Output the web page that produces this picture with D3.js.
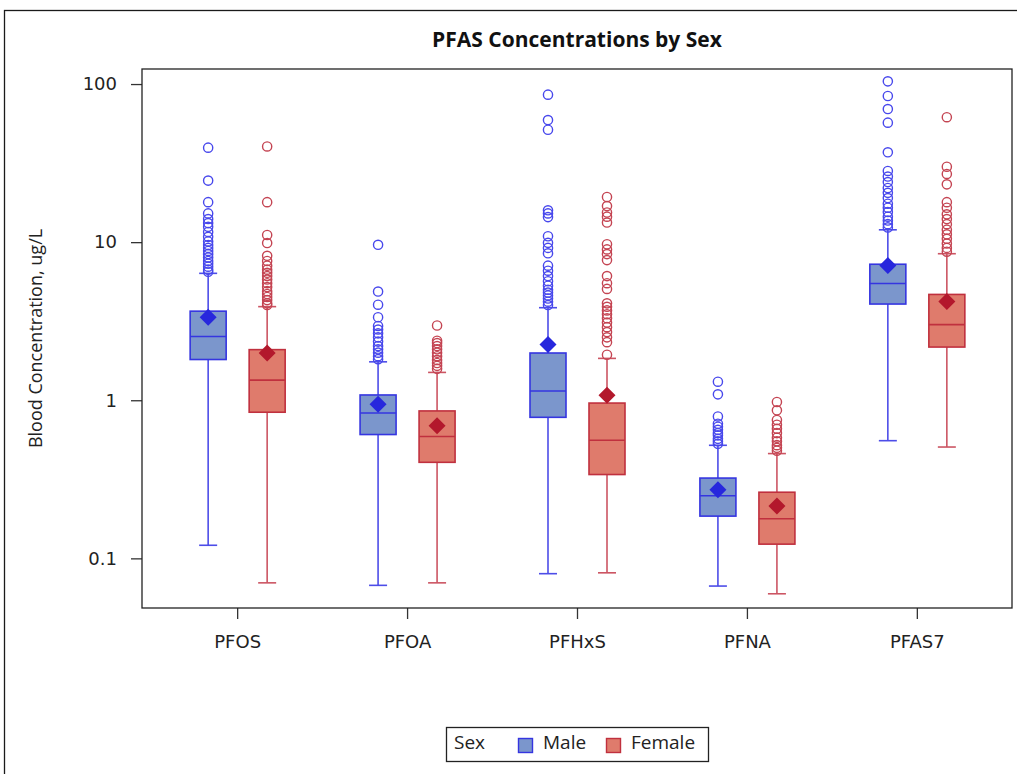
<!DOCTYPE html>
<html>
<head>
<meta charset="utf-8">
<script src="https://cdn.jsdelivr.net/npm/d3@7"></script>
<style>
  html, body { margin: 0; padding: 0; background: #fff; }
  svg { display: block; }
</style>
</head>
<body>
<svg id="chart" width="1017" height="774"></svg>
<script>
// ---- data ----
const categories = ["PFOS", "PFOA", "PFHxS", "PFNA", "PFAS7"];
const sexes = ["Male", "Female"];
const yTicks = [0.1, 1, 10, 100];

const maleQ1      = [1.81, 0.607, 0.78, 0.185, 4.06];
const maleMedian  = [2.53, 0.83, 1.145, 0.249, 5.48];
const maleQ3      = [3.66, 1.08, 1.99, 0.322, 7.25];
const maleLow     = [0.121, 0.0675, 0.080, 0.0668, 0.555];
const maleHigh    = [6.35, 1.75, 3.85, 0.519, 11.97];
const maleMean    = [3.35, 0.945, 2.25, 0.272, 7.11];
const maleOutliers = [
  [39.6, 24.5, 17.9, 15.2, 14.0, 13.2, 12.5, 11.6, 10.8, 10.1, 9.6, 9.2, 8.8, 8.4, 8.0, 7.6, 7.3, 7.0, 6.7, 6.5],
  [9.62, 4.87, 4.02, 3.35, 2.95, 2.8, 2.65, 2.5, 2.35, 2.2, 2.1, 2.0, 1.9, 1.82],
  [85.7, 59.2, 51.4, 15.9, 15.2, 14.4, 10.9, 9.9, 9.2, 8.5, 7.1, 6.6, 6.1, 5.66, 5.3, 5.0, 4.8, 4.6, 4.4, 4.2, 4.0],
  [1.31, 1.09, 0.79, 0.71, 0.68, 0.65, 0.62, 0.6, 0.57, 0.55, 0.53],
  [104, 84, 69.5, 57, 37, 28.2, 26, 24, 22, 20.5, 19, 17.5, 16.5, 15.5, 14.5, 13.7, 13, 12.4]
];

const femaleQ1     = [0.84, 0.405, 0.339, 0.123, 2.17];
const femaleMedian = [1.34, 0.59, 0.558, 0.178, 3.01];
const femaleQ3     = [2.09, 0.856, 0.96, 0.262, 4.67];
const femaleLow    = [0.070, 0.070, 0.081, 0.0597, 0.506];
const femaleHigh   = [3.91, 1.50, 1.84, 0.46, 8.45];
const femaleMean   = [1.99, 0.69, 1.076, 0.214, 4.21];
const femaleOutliers = [
  [40.3, 17.9, 11.1, 9.87, 8.2, 7.6, 7.1, 6.7, 6.4, 6.1, 5.8, 5.5, 5.2, 4.9, 4.7, 4.5, 4.3, 4.1, 4.0],
  [2.97, 2.38, 2.3, 2.2, 2.1, 2.0, 1.9, 1.8, 1.72, 1.65, 1.58],
  [19.3, 16.9, 15.4, 14.5, 13.3, 9.7, 9.0, 8.4, 7.7, 6.1, 5.5, 5.06, 4.1, 3.9, 3.7, 3.5, 3.3, 3.1, 2.9, 2.7, 2.5, 2.33, 1.94],
  [0.975, 0.864, 0.75, 0.7, 0.66, 0.62, 0.58, 0.55, 0.52, 0.5, 0.48],
  [61.7, 30, 27, 23.2, 17.9, 16.5, 15, 14, 13, 12, 11.2, 10.5, 9.8, 9.2, 8.7]
];

// ---- build table ----
function build(sex, q1, med, q3, lo, hi, mean, outs) {
  return categories.map((c, i) => ({
    cat: c, sex: sex, q1: q1[i], median: med[i], q3: q3[i],
    low: lo[i], high: hi[i], mean: mean[i], outliers: outs[i]
  }));
}
const boxes = build("Male", maleQ1, maleMedian, maleQ3, maleLow, maleHigh, maleMean, maleOutliers)
  .concat(build("Female", femaleQ1, femaleMedian, femaleQ3, femaleLow, femaleHigh, femaleMean, femaleOutliers));

const style = {
  Male:   { fill: "#7b96cc", stroke: "#3535e0", whisker: "#4d4de8", outlier: "#4848ec", mean: "#2727dd" },
  Female: { fill: "#df7b6c", stroke: "#c0303e", whisker: "#cc5563", outlier: "#c44452", mean: "#b3182c" }
};

// ---- layout ----
const svg = d3.select("#chart");
const L = 142, R = 1012, T = 69, B = 608;
const font = "'Open Sans', 'Noto Sans', sans-serif";
const tickFont = "'DejaVu Sans', Verdana, sans-serif";

// outer frame
svg.append("rect").attr("x", 4.5).attr("y", 10.5).attr("width", 1100).attr("height", 900)
  .attr("fill", "none").attr("stroke", "#1a1a1a").attr("stroke-width", 1.3);

const x = d3.scalePoint().domain(categories).range([L, R]).padding(0.56);
const offset = d3.scaleOrdinal().domain(sexes).range([-29, 30]);
const y = d3.scaleLog().domain([0.04853, 124.5]).range([B, T]);

const boxW = 36, capW = 18;

// title
svg.append("text").attr("x", (L + R) / 2).attr("y", 47).attr("text-anchor", "middle")
  .attr("font-family", font).attr("font-weight", "bold").attr("font-size", 21)
  .attr("fill", "#111").text("PFAS Concentrations by Sex");

// axes
const yAxis = d3.axisLeft(y).tickValues(yTicks).tickFormat(d3.format("~g")).tickSize(11).tickPadding(14);
const gy = svg.append("g").attr("transform", `translate(${L},0)`).call(yAxis);
const xAxis = d3.axisBottom(x).tickSize(11).tickPadding(16);
const gx = svg.append("g").attr("transform", `translate(0,${B})`).call(xAxis);
[gx, gy].forEach(g => {
  g.select(".domain").remove();
  g.selectAll(".tick line").attr("stroke", "#333").attr("stroke-width", 1.3);
  g.selectAll(".tick text").attr("font-family", tickFont).attr("font-size", 18).attr("fill", "#222");
});

// plot border
svg.append("rect").attr("x", L).attr("y", T).attr("width", R - L).attr("height", B - T)
  .attr("fill", "none").attr("stroke", "#222").attr("stroke-width", 1.3);

// y label
svg.append("text").attr("transform", `translate(42,${(T + B) / 2}) rotate(-90)`)
  .attr("text-anchor", "middle").attr("font-family", font).attr("font-size", 18)
  .attr("fill", "#222").text("Blood Concentration, ug/L");

// boxes
const g = svg.append("g");
const groups = g.selectAll("g.box").data(boxes).join("g")
  .attr("class", "box")
  .attr("transform", d => `translate(${x(d.cat) + offset(d.sex)},0)`);

// whiskers
groups.append("line").attr("x1", 0).attr("x2", 0)
  .attr("y1", d => y(d.q3)).attr("y2", d => y(d.high))
  .attr("stroke", d => style[d.sex].whisker).attr("stroke-width", 1.6);
groups.append("line").attr("x1", 0).attr("x2", 0)
  .attr("y1", d => y(d.q1)).attr("y2", d => y(d.low))
  .attr("stroke", d => style[d.sex].whisker).attr("stroke-width", 1.6);
groups.append("line").attr("x1", -capW / 2).attr("x2", capW / 2)
  .attr("y1", d => y(d.high)).attr("y2", d => y(d.high))
  .attr("stroke", d => style[d.sex].whisker).attr("stroke-width", 1.6);
groups.append("line").attr("x1", -capW / 2).attr("x2", capW / 2)
  .attr("y1", d => y(d.low)).attr("y2", d => y(d.low))
  .attr("stroke", d => style[d.sex].whisker).attr("stroke-width", 1.6);

// box
groups.append("rect").attr("x", -boxW / 2).attr("width", boxW)
  .attr("y", d => y(d.q3)).attr("height", d => y(d.q1) - y(d.q3))
  .attr("fill", d => style[d.sex].fill).attr("stroke", d => style[d.sex].stroke).attr("stroke-width", 1.6);
groups.append("line").attr("x1", -boxW / 2).attr("x2", boxW / 2)
  .attr("y1", d => y(d.median)).attr("y2", d => y(d.median))
  .attr("stroke", d => style[d.sex].stroke).attr("stroke-width", 1.6);

// outliers
groups.selectAll("circle").data(d => d.outliers.map(v => ({ v, sex: d.sex }))).join("circle")
  .attr("cx", 0).attr("cy", o => y(o.v)).attr("r", 4.6)
  .attr("fill", "none").attr("stroke", o => style[o.sex].outlier).attr("stroke-width", 1.4);

// mean diamond
groups.append("path")
  .attr("d", d => { const c = y(d.mean), s = 8.5; return `M0,${c - s}L${s},${c}L0,${c + s}L${-s},${c}Z`; })
  .attr("fill", d => style[d.sex].mean);

// legend
const lg = svg.append("g");
lg.append("rect").attr("x", 446.5).attr("y", 727.5).attr("width", 262).attr("height", 34)
  .attr("fill", "#fff").attr("stroke", "#222").attr("stroke-width", 1.3);
lg.append("text").attr("x", 454).attr("y", 749).attr("font-family", font).attr("font-size", 19)
  .attr("fill", "#222").text("Sex");
const items = lg.selectAll("g.item").data(sexes).join("g").attr("class", "item")
  .attr("transform", (d, i) => `translate(${i === 0 ? 518 : 606},0)`);
items.append("rect").attr("x", 0.5).attr("y", 738.5).attr("width", 14).attr("height", 14)
  .attr("fill", d => style[d].fill).attr("stroke", d => style[d].stroke).attr("stroke-width", 1.4);
items.append("text").attr("x", 25).attr("y", 749).attr("font-family", font).attr("font-size", 19)
  .attr("fill", "#222").text(d => d);
</script>
</body>
</html>
